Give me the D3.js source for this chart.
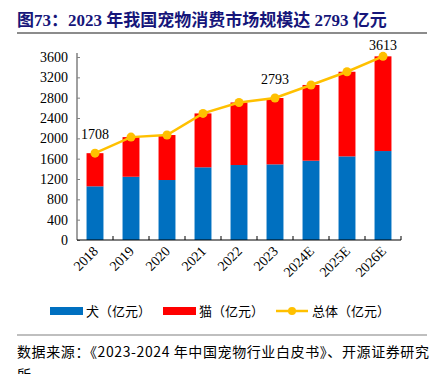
<!DOCTYPE html>
<html>
<head>
<meta charset="utf-8">
<script src="https://cdn.jsdelivr.net/npm/d3@7"></script>
<style>
  body { margin: 0; background: #fff; }
  svg { display: block; }
</style>
</head>
<body>
<script>
// 数据（亿元）
var years = ["2018", "2019", "2020", "2021", "2022", "2023", "2024E", "2025E", "2026E"];
var dogValues = [1056, 1244, 1180, 1430, 1475, 1488, 1560, 1645, 1750];
var catValues = [652, 780, 885, 1060, 1231, 1305, 1490, 1665, 1863];
var totalValues = [1708, 2024, 2065, 2490, 2706, 2793, 3050, 3310, 3613];
var labelledYears = ["2018", "2023", "2026E"];
var yTicks = [0, 400, 800, 1200, 1600, 2000, 2400, 2800, 3200, 3600];

var w = 433;
var h = 374;
var serif = "'Liberation Serif', 'Times New Roman', serif";
var cjk = "'Noto Sans CJK SC', sans-serif";

var svg = d3.select("body")
    .append("svg")
    .attr("width", w)
    .attr("height", h);

// 标题
svg.append("text")
    .attr("x", 17)
    .attr("y", 26)
    .attr("font-family", serif + ", " + cjk)
    .attr("font-weight", "bold")
    .attr("font-size", "17px")
    .attr("fill", "#16167a")
    .text("图73：2023 年我国宠物消费市场规模达 2793 亿元");

svg.append("line")
    .attr("x1", 17).attr("x2", 427)
    .attr("y1", 33).attr("y2", 33)
    .attr("stroke", "#8c8c8c")
    .attr("stroke-width", 2);

var x = d3.scaleBand()
    .domain(years)
    .range([77, 401])
    .paddingInner(0.53)
    .paddingOuter(0.265);

var y = d3.scaleLinear()
    .domain([0, 3600])
    .range([240, 57]);

var rows = years.map(function(d, i) {
    return { year: d, dog: dogValues[i], cat: catValues[i], total: totalValues[i] };
});

var stack = d3.stack().keys(["dog", "cat"])(rows);
var colors = { dog: "#0070c0", cat: "#ff0000" };

svg.selectAll("g.layer")
    .data(stack)
    .enter()
    .append("g")
    .attr("class", "layer")
    .attr("fill", function(d) { return colors[d.key]; })
    .selectAll("rect")
    .data(function(d) { return d; })
    .enter()
    .append("rect")
    .attr("x", function(d) { return x(d.data.year); })
    .attr("y", function(d) { return y(d[1]); })
    .attr("width", x.bandwidth())
    .attr("height", function(d) { return y(d[0]) - y(d[1]); });

// y 轴
var yAxis = svg.append("g")
    .attr("transform", "translate(77,0)")
    .call(d3.axisLeft(y).tickValues(yTicks).tickFormat(d3.format("d"))
        .tickSizeInner(-3).tickSizeOuter(0).tickPadding(9));
yAxis.select(".domain").attr("stroke", "#808080").attr("stroke-width", 1.5)
    .attr("d", "M0,240V53");
yAxis.selectAll(".tick line").attr("stroke", "#808080");
yAxis.selectAll("text")
    .attr("font-family", serif)
    .attr("font-size", "14px")
    .attr("fill", "#000");

// x 轴
var xAxis = svg.append("g")
    .attr("transform", "translate(0,240)");
xAxis.append("line")
    .attr("x1", 77).attr("x2", 401)
    .attr("y1", 0).attr("y2", 0)
    .attr("stroke", "#000")
    .attr("stroke-width", 1.2);
xAxis.selectAll("line.tick")
    .data(years)
    .enter()
    .append("line")
    .attr("class", "tick")
    .attr("x1", function(d) { return x(d) + x.bandwidth() / 2 + x.step() / 2; })
    .attr("x2", function(d) { return x(d) + x.bandwidth() / 2 + x.step() / 2; })
    .attr("y1", 0).attr("y2", -4)
    .attr("stroke", "#000");
xAxis.selectAll("text")
    .data(years)
    .enter()
    .append("text")
    .attr("transform", function(d) {
        return "translate(" + (x(d) + x.bandwidth() / 2 + 4) + ",12) rotate(-45)";
    })
    .attr("text-anchor", "end")
    .attr("font-family", serif)
    .attr("font-size", "14px")
    .attr("fill", "#000")
    .text(function(d) { return d; });

// 总体折线
var line = d3.line()
    .x(function(d) { return x(d.year) + x.bandwidth() / 2; })
    .y(function(d) { return y(d.total); });

svg.append("path")
    .datum(rows)
    .attr("d", line)
    .attr("fill", "none")
    .attr("stroke", "#ffc000")
    .attr("stroke-width", 2.5);

svg.selectAll("circle.dot")
    .data(rows)
    .enter()
    .append("circle")
    .attr("class", "dot")
    .attr("cx", function(d) { return x(d.year) + x.bandwidth() / 2; })
    .attr("cy", function(d) { return y(d.total); })
    .attr("r", 4.5)
    .attr("fill", "#ffc000");

svg.selectAll("text.val")
    .data(rows.filter(function(d) { return labelledYears.indexOf(d.year) >= 0; }))
    .enter()
    .append("text")
    .attr("class", "val")
    .attr("x", function(d) { return x(d.year) + x.bandwidth() / 2; })
    .attr("y", function(d) { return Math.max(y(d.total) - 14, 50); })
    .attr("text-anchor", "middle")
    .attr("font-family", serif)
    .attr("font-size", "14px")
    .attr("fill", "#000")
    .text(function(d) { return d.total; });

// 图例
var legend = svg.append("g").attr("font-family", cjk).attr("font-size", "13px").attr("fill", "#000");
legend.append("rect").attr("x", 50).attr("y", 307).attr("width", 33).attr("height", 8).attr("fill", colors.dog);
legend.append("text").attr("x", 86).attr("y", 316).text("犬（亿元）");
legend.append("rect").attr("x", 163).attr("y", 307).attr("width", 33).attr("height", 8).attr("fill", colors.cat);
legend.append("text").attr("x", 199).attr("y", 316).text("猫（亿元）");
legend.append("line").attr("x1", 276).attr("x2", 308).attr("y1", 311).attr("y2", 311)
    .attr("stroke", "#ffc000").attr("stroke-width", 2.5);
legend.append("circle").attr("cx", 292).attr("cy", 311).attr("r", 4).attr("fill", "#ffc000");
legend.append("text").attr("x", 312).attr("y", 316).text("总体（亿元）");

// 来源
svg.append("line")
    .attr("x1", 17).attr("x2", 427)
    .attr("y1", 335).attr("y2", 335)
    .attr("stroke", "#808080")
    .attr("stroke-width", 1.2);
svg.append("text")
    .attr("x", 17)
    .attr("y", 357)
    .attr("font-family", cjk)
    .attr("font-size", "14px")
    .attr("letter-spacing", "0.6px")
    .attr("fill", "#000")
    .text("数据来源：《2023-2024 年中国宠物行业白皮书》、开源证券研究");
svg.append("text")
    .attr("x", 17)
    .attr("y", 380)
    .attr("font-family", cjk)
    .attr("font-size", "14px")
    .attr("fill", "#000")
    .text("所");
</script>
</body>
</html>
